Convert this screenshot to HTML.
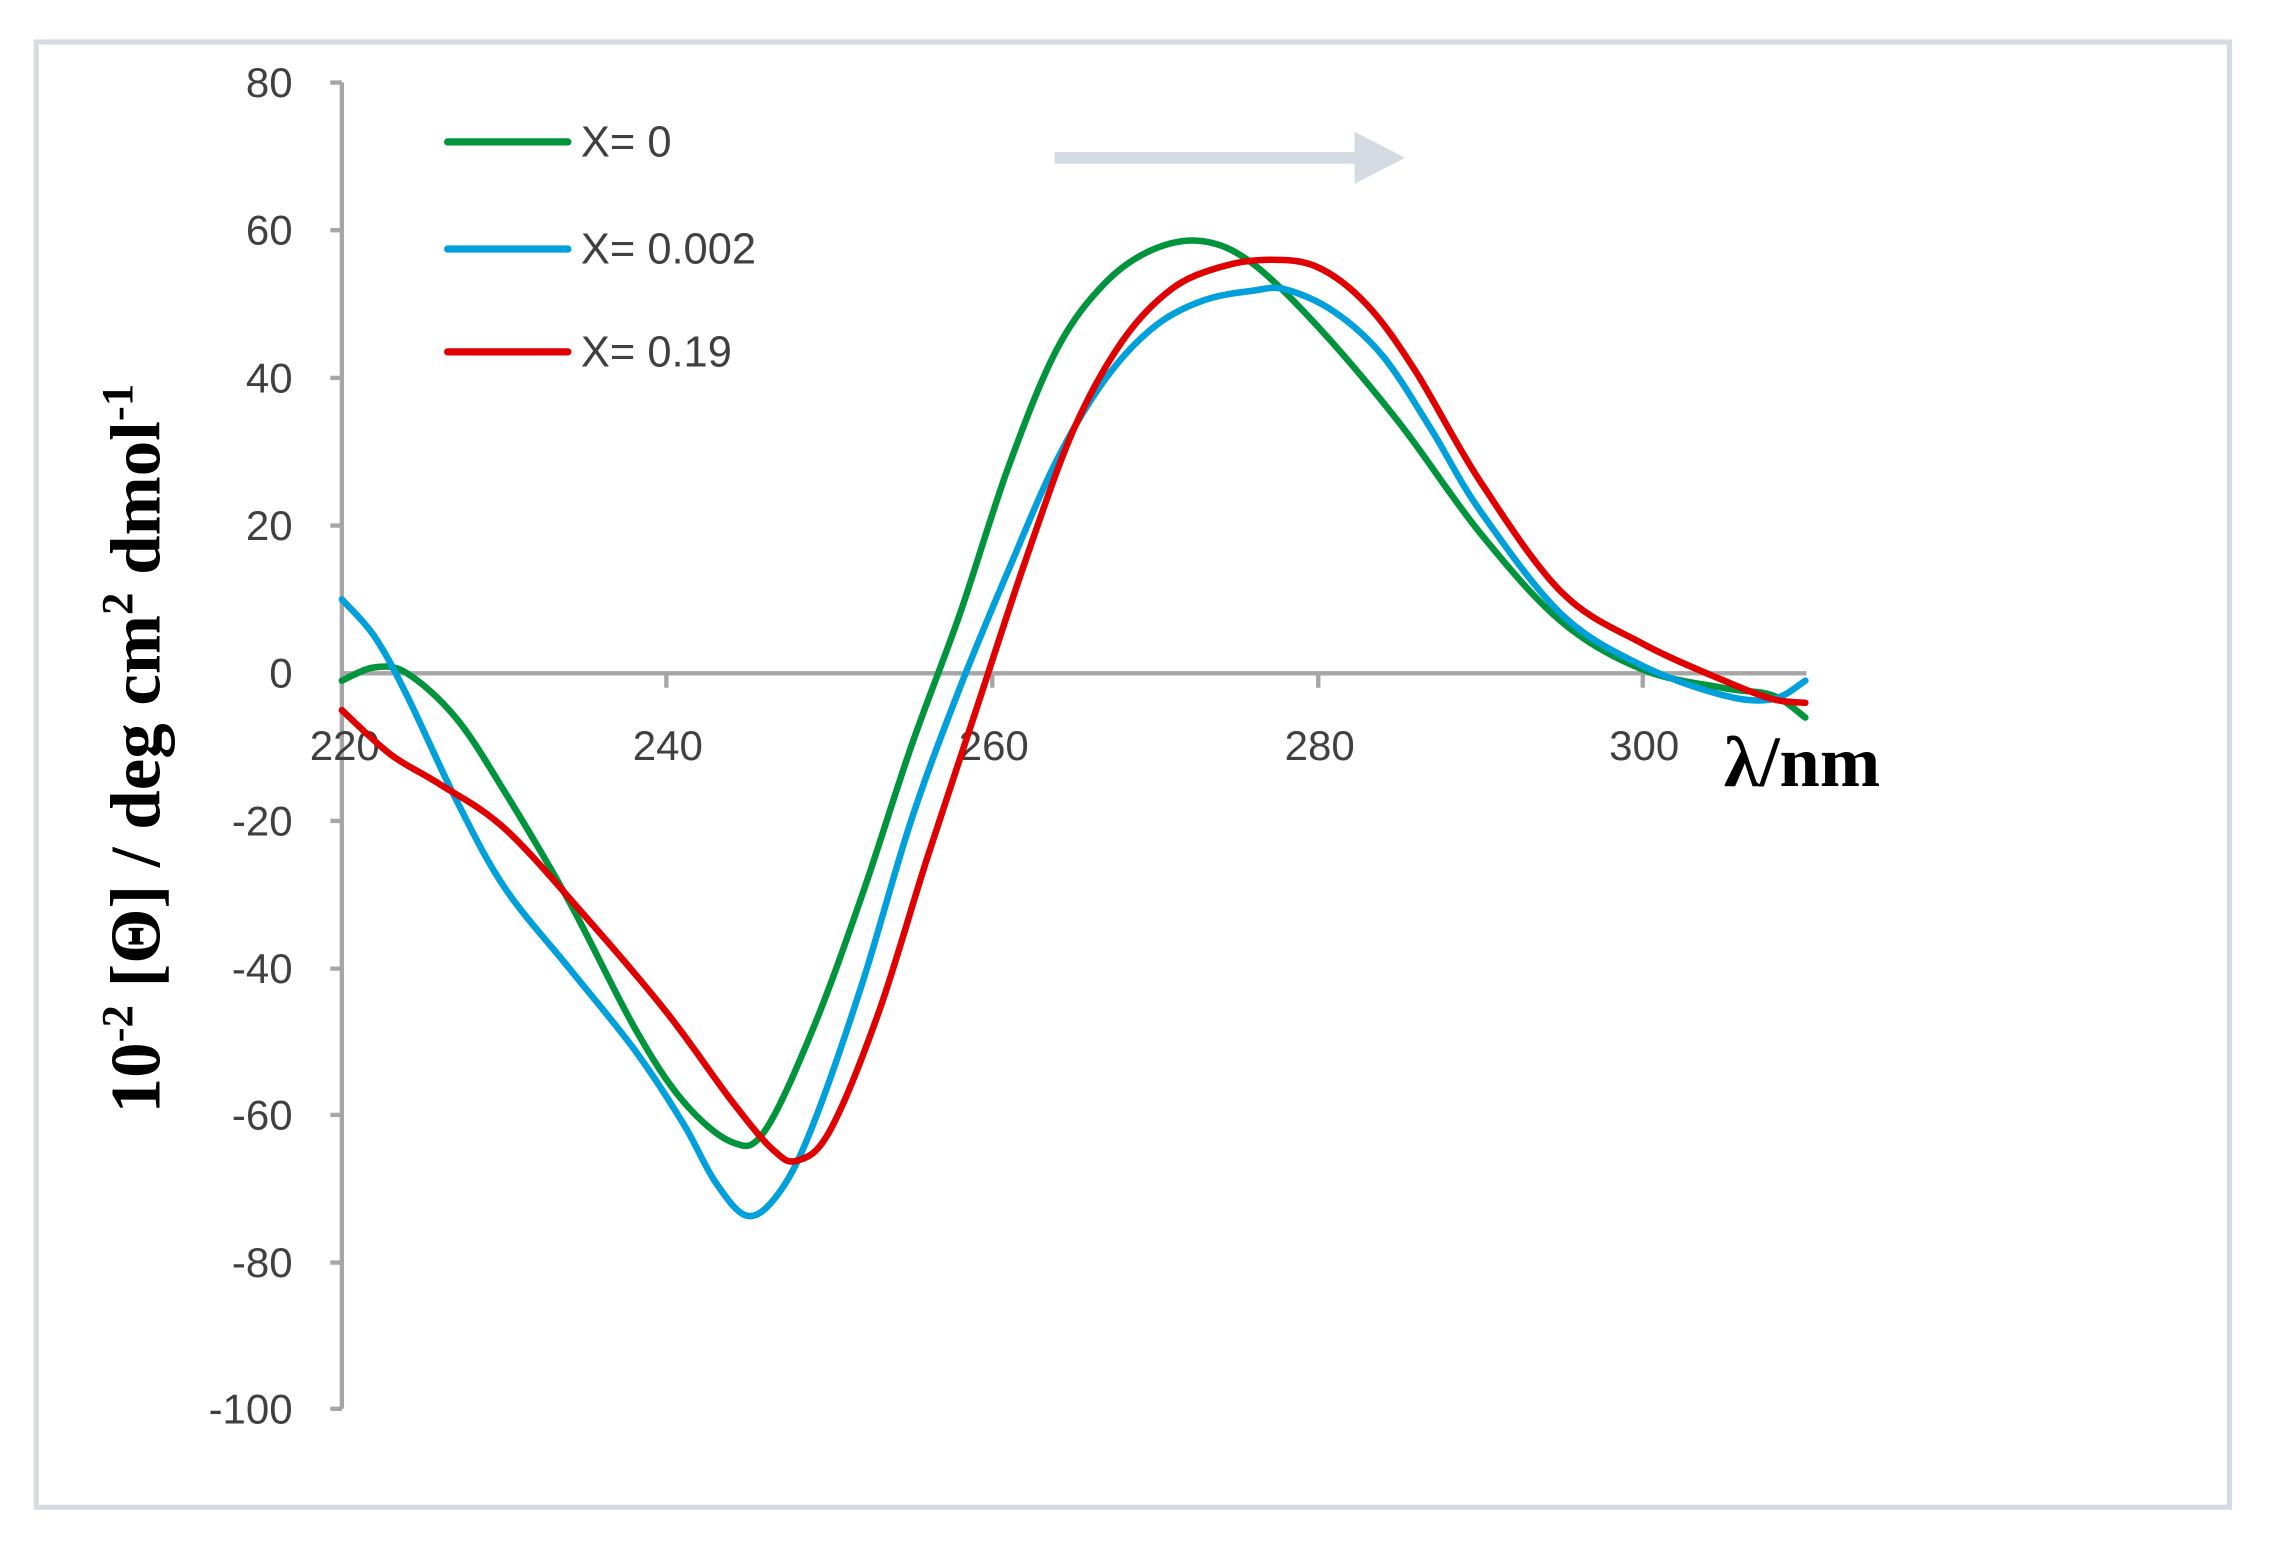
<!DOCTYPE html>
<html><head><meta charset="utf-8"><style>
html,body{margin:0;padding:0;background:#fff;}
svg{display:block;}
</style></head><body>
<svg id="s" width="2270" height="1542" viewBox="0 0 1567 1065" preserveAspectRatio="none" xmlns="http://www.w3.org/2000/svg">
<rect x="0" y="0" width="1567" height="1065" fill="#fff"/>
<rect x="25" y="29" width="1514" height="1012" fill="none" stroke="#d5dbe3" stroke-width="3.5"/>
<g stroke="#a6a6a6" stroke-width="3" fill="none">
<line x1="236" y1="57" x2="236" y2="973"/>
<line x1="236" y1="465" x2="1247" y2="465"/>
<path d="M228 57H236M228 159H236M228 261H236M228 363H236M228 567H236M228 669H236M228 770H236M228 872H236M228 973H236"/>
<path d="M460 465V475M685 465V475M910 465V475M1134 465V475"/>
</g>
<g font-family="Liberation Sans, sans-serif" font-size="29" fill="#404040" text-anchor="end">
<text x="202" y="67">80</text><text x="202" y="169">60</text><text x="202" y="271">40</text><text x="202" y="373">20</text><text x="202" y="475">0</text><text x="202" y="577">-20</text><text x="202" y="679">-40</text><text x="202" y="780">-60</text><text x="202" y="882">-80</text><text x="202" y="983">-100</text>
</g>
<g font-family="Liberation Sans, sans-serif" font-size="29" fill="#404040" text-anchor="middle">
<text x="238" y="525">220</text><text x="461" y="525">240</text><text x="686" y="525">260</text><text x="911" y="525">280</text><text x="1135" y="525">300</text>
</g>
<text x="1190" y="543" font-family="Liberation Serif, serif" font-weight="bold" font-size="50" fill="#000">λ/nm</text>
<text transform="translate(110,517) rotate(-90)" text-anchor="middle" font-family="Liberation Serif, serif" font-weight="bold" font-size="49" fill="#000">10<tspan font-size="31" dy="-19">-2</tspan><tspan dy="19"> [Θ] / deg cm</tspan><tspan font-size="31" dy="-19">2</tspan><tspan dy="19"> dmol</tspan><tspan font-size="31" dy="-19">-1</tspan></text>
<g stroke-width="5" stroke-linecap="round">
<line x1="309" y1="98" x2="392" y2="98" stroke="#00943c"/>
<line x1="309" y1="172" x2="392" y2="172" stroke="#00a0dc"/>
<line x1="309" y1="243" x2="392" y2="243" stroke="#e00000"/>
</g>
<g font-family="Liberation Sans, sans-serif" font-size="30" fill="#404040">
<text x="401" y="108">X= 0</text><text x="401" y="182">X= 0.002</text><text x="401" y="253">X= 0.19</text>
</g>
<line x1="728" y1="109" x2="940" y2="109" stroke="#d5dbe3" stroke-width="8"/>
<polygon points="935,91 970,109 935,127" fill="#d5dbe3"/>
<g id="curves" fill="none" stroke-width="4.5" stroke-linejoin="round" stroke-linecap="round"></g>
</svg>
<script>
var data={
"#00943c":[[220,-1],[222,0.8],[224,0],[227,-6],[230,-16],[234,-31],[238,-48],[241,-58],[244,-63.5],[246,-62],[249,-48],[252,-30],[255,-10],[258,8],[261,28],[264,44],[267,53],[270,57.5],[273,58.5],[276,55.5],[280,47],[285,34],[290,19],[295,7],[300,0.5],[305,-2],[308,-3],[310,-6]],
"#00a0dc":[[220,10],[222,5],[224,-3],[227,-17],[230,-29],[234,-40],[238,-51],[241,-61],[243,-69],[245,-73.5],[247,-70],[249,-61],[252,-42],[255,-20],[258,-2],[261,14],[264,29],[267,40],[270,47],[273,50.5],[276,51.8],[278,52],[281,49],[284,43],[287,33],[290,22],[295,8],[300,1],[305,-3],[308,-3.5],[310,-1]],
"#e00000":[[220,-5],[223,-11],[226,-15],[230,-21],[235,-33],[240,-46],[244,-58],[246.5,-64.5],[248,-66],[250,-62],[253,-46],[256,-25],[259,-5],[262,15],[265,33],[268,45],[271,52],[274,55],[277,56],[280,55],[283,50],[286,41],[290,26],[295,11],[300,4],[305,-1],[308,-3.5],[310,-4]]};
var g=document.getElementById('curves');
function X(w){return 236+(w-220)*11.225;}function Y(v){return 465-v*5.1;}
for(var c in data){var p=data[c].map(function(d){return [X(d[0]),Y(d[1])];});
var s="M"+p[0][0]+" "+p[0][1];
for(var i=0;i<p.length-1;i++){var p0=p[i-1]||p[i],p1=p[i],p2=p[i+1],p3=p[i+2]||p2;
s+=" C"+(p1[0]+(p2[0]-p0[0])/6)+" "+(p1[1]+(p2[1]-p0[1])/6)+" "+(p2[0]-(p3[0]-p1[0])/6)+" "+(p2[1]-(p3[1]-p1[1])/6)+" "+p2[0]+" "+p2[1];}
var e=document.createElementNS("http://www.w3.org/2000/svg","path");e.setAttribute("d",s);e.setAttribute("stroke",c);g.appendChild(e);}
</script>
</body></html>
